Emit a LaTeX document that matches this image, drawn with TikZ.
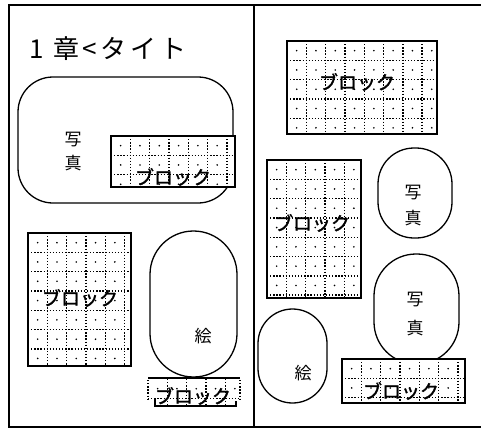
\documentclass[tikz,border=0pt]{standalone}
\usepackage{fontspec}
\newfontfamily\jp{Noto Sans CJK JP}
\newfontfamily\jpt[LetterSpace=14]{Noto Sans CJK JP}
\newfontfamily\jpb[FakeBold=1.5]{Noto Sans CJK JP}
\tikzset{
  frame/.style={line width=2pt},
  outline/.style={line width=1.3pt},
  blockline/.style={line width=2pt},
  gridline/.style={line width=1.4pt, dash pattern=on 1.3pt off 1.8pt},
  lbl/.style={font=\jp\fontsize{17}{17}\selectfont, inner sep=0pt},
  blk/.style={font=\jpb\fontsize{19}{19}\selectfont, inner sep=0pt},
  ttl/.style={font=\jpt\fontsize{26}{26}\selectfont, inner sep=0pt, anchor=west},
}
\newcommand\dgrid[4]{%
  \begin{scope}
    \clip (#1,#2) rectangle (#3,#4);
    \pgfmathsetmacro\gxa{#1+19.3}\pgfmathsetmacro\gxb{#1+38.6}%
    \pgfmathsetmacro\gya{#2+19.3}\pgfmathsetmacro\gyb{#2+38.6}%
    \pgfmathsetmacro\gxc{#1+9.65}\pgfmathsetmacro\gxd{#1+28.95}%
    \pgfmathsetmacro\gyc{#2+9.65}\pgfmathsetmacro\gyd{#2+28.95}%
    \foreach \gx in {\gxa,\gxb,...,#3} \draw[gridline] (\gx,#2) -- (\gx,#4);
    \foreach \gy in {\gya,\gyb,...,#4} \draw[gridline] (#1,\gy) -- (#3,\gy);
    \foreach \gx in {\gxc,\gxd,...,#3} \foreach \gy in {\gyc,\gyd,...,#4} \fill (\gx,\gy) circle (0.9pt);
  \end{scope}}
\newcommand\blockrect[4]{%
  \fill[white] (#1,#2) rectangle (#3,#4);
  \dgrid{#1}{#2}{#3}{#4}
  \draw[blockline] (#1,#2) rectangle (#3,#4);}
\begin{document}
\begin{tikzpicture}[x=1pt,y=-1pt]
\useasboundingbox (0,0) rectangle (481,431);
% frame
\draw[frame] (481,5) -- (9,5) -- (9,427) -- (481,427);
\draw[frame] (254,5) -- (254,427);
% left panel
\node[ttl] (title) at (29,49) {1 章<タイト};
\draw[outline, rounded corners=35pt] (18,77) rectangle (233,203);
\node[lbl] (sha1) at (73,140) {写};
\node[lbl] (shb1) at (73,163) {真};
\blockrect{111}{136}{235}{187}
\node[blk] (blkA) at (173,177) {ブロック};
\blockrect{28}{233}{131}{366}
\node[blk] (blkB) at (80,298) {ブロック};
\draw[outline, rounded corners=43.5pt] (150,231) rectangle (237,377);
\node[lbl] (e1) at (203,336) {絵};
% block C (under picture)
\fill[white] (148,379) rectangle (240,406);
\dgrid{148}{379}{240}{405}
\draw[gridline] (148,380) -- (148,399);
\draw[gridline] (240,380) -- (240,399);
\draw[outline] (148,378) -- (240,378);
\draw[line width=1.6pt] (155,398) -- (155,406) -- (236,406) -- (236,401);
\node[blk] (blkC) at (193,396) {ブロック};
% right panel
\blockrect{287}{41}{437}{134}
\node[blk] (blkD) at (357,82) {ブロック};
\blockrect{267}{160}{361}{298}
\node[blk] (blkE) at (312,223) {ブロック};
\draw[outline, rounded corners=36pt] (378,148) rectangle (452,238);
\node[lbl] (sha2) at (413,193) {写};
\node[lbl] (shb2) at (413,218) {真};
\draw[outline, rounded corners=42pt] (374,254) rectangle (459,364);
\node[lbl] (sha3) at (415,300) {写};
\node[lbl] (shb3) at (415,328) {真};
\blockrect{342}{359}{465}{403}
\node[blk] (blkF) at (401,391) {ブロック};
\draw[outline, rounded corners=34.5pt] (258,309) rectangle (327,403);
\node[lbl] (e2) at (303,373) {絵};
\end{tikzpicture}
\end{document}
